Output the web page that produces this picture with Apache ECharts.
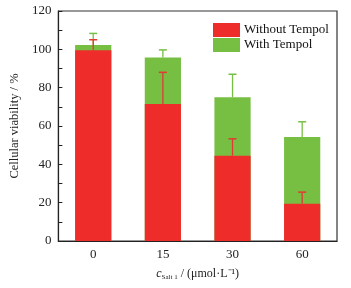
<!DOCTYPE html>
<html>
<head>
<meta charset="utf-8">
<script src="https://cdn.jsdelivr.net/npm/echarts@6/dist/echarts.min.js"></script>
<style>
  html, body { margin: 0; padding: 0; background: #fff; }
  #main { width: 351px; height: 288px; }
</style>
</head>
<body>
<div id="main"></div>
<script>
  let categories = ["0", "15", "30", "60"];
  let withoutTempol = [99.5, 71.5, 44.5, 19.5];
  let withoutErr = [5.5, 16.5, 8.8, 6.0];
  let withTempol = [102.3, 95.7, 75.0, 54.2];
  let withErr = [6.0, 4.0, 12.0, 8.0];

  let red = "#ee2d2b";
  let green = "#77bf43";
  let serif = "Liberation Serif";

  // error bar data: [index, base, top]
  let errRed = withoutTempol.map((v, i) => [i, v, v + withoutErr[i]]);
  let errGreen = withTempol.map((v, i) => [i, v, v + withErr[i]]);

  function errorBar(color) {
    return function (params, api) {
      let base = api.coord([api.value(0), api.value(1)]);
      let top = api.coord([api.value(0), api.value(2)]);
      let half = 4;
      return {
        type: "group",
        children: [
          {
            type: "line",
            shape: { x1: base[0], y1: base[1], x2: top[0], y2: top[1] },
            style: { stroke: color, lineWidth: 1.3 }
          },
          {
            type: "line",
            shape: { x1: top[0] - half, y1: top[1], x2: top[0] + half, y2: top[1] },
            style: { stroke: color, lineWidth: 1.5 }
          }
        ]
      };
    };
  }

  let option = {
    animation: false,
    textStyle: { fontFamily: serif },
    grid: {
      left: 52,
      right: 14,
      top: 11,
      bottom: 47,
      show: true,
      borderColor: "#333",
      borderWidth: 1.2
    },
    legend: {
      orient: "vertical",
      left: 213,
      top: 23,
      padding: 0,
      icon: "rect",
      itemWidth: 27,
      itemHeight: 14,
      itemGap: 1,
      textStyle: { fontFamily: serif, fontSize: 13, color: "#111", padding: [0, 0, 0, -1] },
      data: ["Without Tempol", "With Tempol"]
    },
    xAxis: {
      type: "category",
      data: categories,
      axisLine: { lineStyle: { color: "#222", width: 1.2 } },
      axisTick: { show: false },
      axisLabel: { fontFamily: serif, fontSize: 13, color: "#222", margin: 7 },
      name: "{i|c}{sub|Salt 1}{t| / (μmol·L⁻¹)}",
      nameLocation: "middle",
      nameGap: 26,
      nameTextStyle: {
        rich: {
          i: { fontFamily: serif, fontStyle: "italic", fontSize: 12, color: "#222" },
          sub: { fontFamily: serif, fontSize: 7, color: "#222", padding: [7, 0, 0, 0] },
          t: { fontFamily: serif, fontSize: 12, color: "#222" }
        }
      }
    },
    yAxis: {
      type: "value",
      min: 0,
      max: 120,
      interval: 10,
      axisLine: { show: true, lineStyle: { color: "#222", width: 1.2 } },
      axisTick: { show: true, inside: true, length: 4, lineStyle: { color: "#222" } },
      splitLine: { show: false },
      axisLabel: {
        fontFamily: serif,
        fontSize: 13,
        color: "#222",
        margin: 7,
        formatter: (v) => (v % 20 === 0 ? String(v) : "")
      },
      name: "Cellular viability / %",
      nameLocation: "middle",
      nameGap: 19,
      nameTextStyle: { fontFamily: serif, fontSize: 12.5, color: "#222" }
    },
    series: [
      {
        name: "With Tempol",
        type: "bar",
        data: withTempol,
        barWidth: "52%",
        barGap: "-100%",
        itemStyle: { color: green }
      },
      {
        name: "Without Tempol",
        type: "bar",
        data: withoutTempol,
        barWidth: "52%",
        barGap: "-100%",
        itemStyle: { color: red }
      },
      {
        type: "custom",
        renderItem: errorBar(green),
        data: errGreen,
        z: 5
      },
      {
        type: "custom",
        renderItem: errorBar("#e03a35"),
        data: errRed,
        z: 6
      }
    ]
  };

  let chart = echarts.init(document.getElementById("main"));
  chart.setOption(option);
</script>
</body>
</html>
